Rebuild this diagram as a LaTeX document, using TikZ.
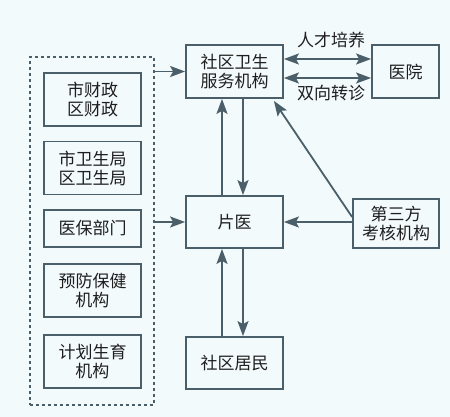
\documentclass[tikz,border=0pt]{standalone}
\usepackage{fontspec}
\setmainfont{Noto Sans CJK SC}
\usetikzlibrary{arrows.meta}
\definecolor{bg}{HTML}{F3FAFC}
\definecolor{ln}{HTML}{4A5F6A}
\definecolor{tx}{HTML}{1E1E1E}
\tikzset{tip/.tip={Stealth[length=15pt,width=11pt,inset=3pt]}}
\begin{document}
\begin{tikzpicture}[x=1pt,y=-1pt,
  box/.style={draw=ln,line width=1.8pt,text=tx,inner sep=0pt,align=center,
    font=\fontsize{17}{19}\selectfont},
  lbox/.style={box,minimum width=97pt,minimum height=53pt},
  arr/.style={draw=ln,line width=1.8pt,-tip},
  darr/.style={draw=ln,line width=1.8pt,tip-tip},
  lab/.style={text=tx,font=\fontsize{17}{19}\selectfont,inner sep=0pt}]
\fill[bg] (0,0) rectangle (450,417);
\useasboundingbox (0,0) rectangle (450,417);
\node[draw=ln,line width=1.5pt,dash pattern=on 3pt off 3pt,minimum width=124pt,minimum height=348pt,inner sep=0pt] (grp) at (92,231) {};
\node[lbox] (cz) at (92.5,99.5) {市财政\\区财政};
\node[lbox] (ws) at (92.5,168) {市卫生局\\区卫生局};
\node[lbox,minimum height=37pt] (yb) at (92.5,228.5) {医保部门};
\node[lbox] (yf) at (92.5,290.5) {预防保健\\机构};
\node[lbox] (jh) at (92.5,361.5) {计划生育\\机构};
\node[lbox] (sq) at (234.5,71.5) {社区卫生\\服务机构};
\node[box,minimum width=67pt,minimum height=53pt] (yy) at (405.5,71.5) {医院};
\node[lbox,minimum height=52pt] (py) at (234.5,222) {片医};
\node[box,minimum width=86pt,minimum height=49pt] (dsf) at (396,223.5) {第三方\\考核机构};
\node[lbox,minimum height=52pt] (jm) at (234.5,363) {社区居民};
\node[lab] (rc) at (331,40) {人才培养};
\node[lab] (sx) at (331,93) {双向转诊};
\draw[darr] ([yshift=12.5pt]sq.east) -- ([yshift=12.5pt]yy.west);
\draw[darr] ([yshift=-6.5pt]sq.east) -- ([yshift=-6.5pt]yy.west);
\draw[arr] (sq.west -| grp.east) -- (sq.west);
\draw[arr] (py.west -| grp.east) -- (py.west);
\draw[arr] (dsf.west |- py.east) -- (py.east);
\draw[arr] ([yshift=6.5pt]dsf.west) -- ([xshift=-10pt,yshift=-2pt]sq.south east);
\draw[arr] ([xshift=-12.5pt]py.north) -- ([xshift=-12.5pt]sq.south);
\draw[arr] ([xshift=8.5pt]sq.south) -- ([xshift=8.5pt]py.north);
\draw[arr] ([xshift=-12.5pt]jm.north) -- ([xshift=-12.5pt]py.south);
\draw[arr] ([xshift=8.5pt]py.south) -- ([xshift=8.5pt]jm.north);
\end{tikzpicture}
\end{document}
